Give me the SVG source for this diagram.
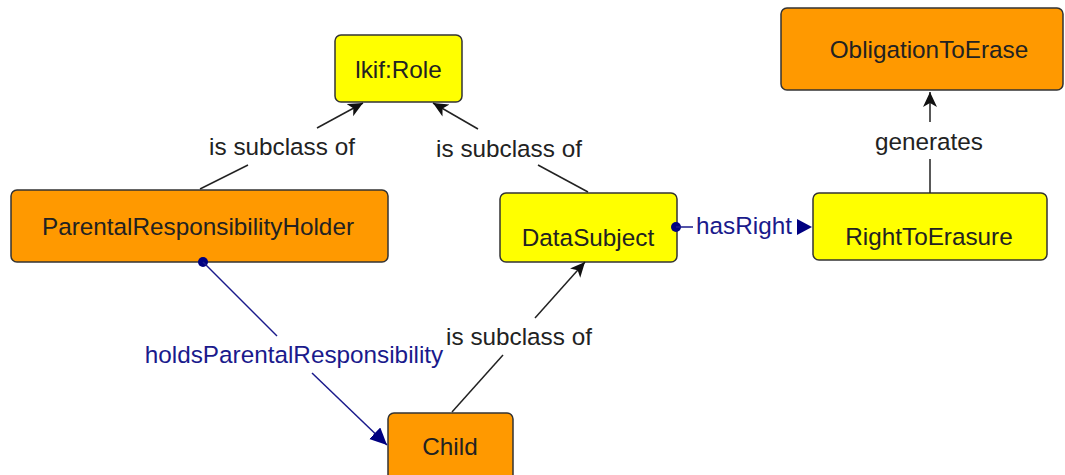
<svg xmlns="http://www.w3.org/2000/svg" width="1065" height="475" viewBox="0 0 1065 475">
  <style>
    .node rect { stroke: #333; stroke-width: 1.5; }
    .cls { fill: #ff9900; }
    .role { fill: #ffff00; }
    text { font-family: "Liberation Sans", Arial, sans-serif; font-size: 24.3px; text-anchor: middle; }
    .nt { fill: #222; }
    .lbl { fill: #222; }
    .plbl { fill: #1a1a8c; }
    .sub { stroke: #222; stroke-width: 1.5; fill: none; }
    .prop { stroke: #1a1a8c; stroke-width: 1.5; fill: none; }
  </style>
  <defs>
    <marker id="subArrow" markerUnits="userSpaceOnUse" markerWidth="20" markerHeight="20" refX="15" refY="7" orient="auto">
      <path d="M15,7 L0,0 L4,7 L0,14 Z" fill="#111"/>
    </marker>
    <marker id="propArrow" markerUnits="userSpaceOnUse" markerWidth="22" markerHeight="22" refX="17" refY="8" orient="auto">
      <path d="M17,8 L0,0 L0,16 Z" fill="#000080"/>
    </marker>
  </defs>

  <!-- nodes -->
  <g id="ikif-role" class="node">
    <rect class="role" x="335" y="35" width="127" height="67" rx="6"/>
    <text class="nt" x="398.5" y="78">lkif:Role</text>
  </g>
  <g id="obligation-to-erase" class="node">
    <rect class="cls" x="781" y="8" width="282" height="82" rx="6"/>
    <text class="nt" x="929" y="58">ObligationToErase</text>
  </g>
  <g id="parental-responsibility-holder" class="node">
    <rect class="cls" x="11" y="190" width="377" height="72" rx="6"/>
    <text class="nt" x="198" y="235">ParentalResponsibilityHolder</text>
  </g>
  <g id="data-subject" class="node">
    <rect class="role" x="500" y="193" width="177" height="69" rx="6"/>
    <text class="nt" x="588" y="246">DataSubject</text>
  </g>
  <g id="right-to-erasure" class="node">
    <rect class="role" x="813" y="193" width="234" height="67" rx="6"/>
    <text class="nt" x="929" y="245">RightToErasure</text>
  </g>
  <g id="child" class="node">
    <rect class="cls" x="388" y="413" width="125" height="80" rx="6"/>
    <text class="nt" x="450" y="455">Child</text>
  </g>

  <!-- connectors -->
  <g id="connectors">
    <!-- ParentalResponsibilityHolder is subclass of lkif:Role -->
    <line class="sub" x1="200" y1="189" x2="248" y2="165"/>
    <line class="sub" x1="317" y1="128" x2="363" y2="103" marker-end="url(#subArrow)"/>
    <text class="lbl" x="282" y="155">is subclass of</text>

    <!-- DataSubject is subclass of lkif:Role -->
    <line class="sub" x1="588" y1="192" x2="538" y2="165"/>
    <line class="sub" x1="478" y1="129" x2="433" y2="103" marker-end="url(#subArrow)"/>
    <text class="lbl" x="509" y="157">is subclass of</text>

    <!-- Child is subclass of DataSubject -->
    <line class="sub" x1="452" y1="412" x2="503" y2="355"/>
    <line class="sub" x1="535" y1="318" x2="585" y2="262" marker-end="url(#subArrow)"/>
    <text class="lbl" x="519" y="345">is subclass of</text>

    <!-- RightToErasure generates ObligationToErase -->
    <line class="sub" x1="930" y1="193" x2="930" y2="159"/>
    <line class="sub" x1="930" y1="122" x2="930" y2="92" marker-end="url(#subArrow)"/>
    <text class="lbl" x="929" y="150">generates</text>

    <!-- holdsParentalResponsibility -->
    <circle cx="203" cy="262" r="5" fill="#000080"/>
    <line class="prop" x1="203" y1="262" x2="277" y2="336"/>
    <line class="prop" x1="312" y1="373" x2="387" y2="445" marker-end="url(#propArrow)"/>
    <text class="plbl" x="294" y="363">holdsParentalResponsibility</text>

    <!-- hasRight -->
    <circle cx="676" cy="227" r="5" fill="#000080"/>
    <line class="prop" x1="676" y1="227" x2="693" y2="227"/>
    <text class="plbl" x="744" y="234">hasRight</text>
    <path d="M797,219 L812,227 L797,235 Z" fill="#000080"/>
  </g>
</svg>
